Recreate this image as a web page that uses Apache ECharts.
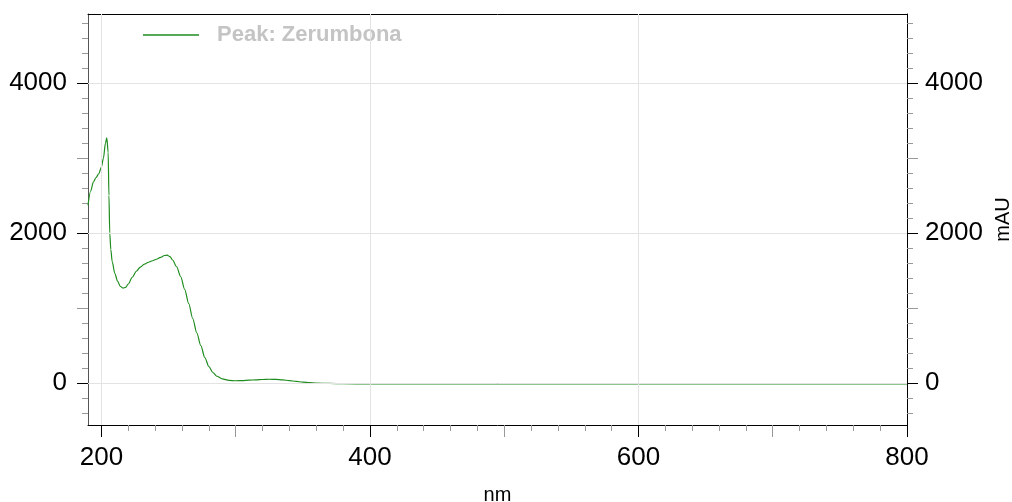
<!DOCTYPE html>
<html>
<head>
<meta charset="utf-8">
<script src="https://cdn.jsdelivr.net/npm/echarts@6/dist/echarts.min.js"></script>
<style>
html,body{margin:0;padding:0;background:#fff;}
#chart{width:1012px;height:502px;}
</style>
</head>
<body>
<div id="chart"></div>
<script>
const seriesName = 'Peak: Zerumbona';
const wavelengths = [190,192,194,196,198,200,201.5,203,204,205,205.6,206.2,207,208,210,212,214,216,218,220,223,226,229,232,235,238,241,244,247,249,251,253,256,259,262,265,268,271,274,277,280,283,286,290,295,300,305,310,315,320,325,330,335,340,345,350,355,360,370,380,400,450,500,550,600,650,700,750,800];
const absorbance = [2370,2560,2680,2740,2790,2880,3000,3200,3270,3080,2500,2000,1780,1620,1460,1360,1290,1265,1275,1320,1410,1490,1545,1585,1610,1630,1650,1675,1700,1705,1685,1640,1550,1420,1250,1060,860,670,500,340,220,140,90,55,35,30,32,38,42,47,50,48,42,32,22,12,5,0,-6,-10,-12,-12,-12,-12,-12,-12,-12,-12,-12];
const xMajorTicks = [200,400,600,800];
const xMidTicks = [300,500,700];
const xMinorTicks = [220,240,260,280,320,340,360,380,420,440,460,480,520,540,560,580,620,640,660,680,720,740,760,780];
const yMajorTicks = [0,2000,4000];
const yMidTicks = [1000,3000];
const yMinorTicks = [-400,-200,200,400,600,800,1200,1400,1600,1800,2200,2400,2600,2800,3200,3400,3600,3800,4200,4400,4600,4800];
const xGridValues = [200,400,600];
const yGridValues = [0,2000,4000];
const xRange = [190, 800];
const yRange = [-560, 4920];
const xName = 'nm';
const yName = 'mAU';

const FONT = 'Liberation Sans, Arial, sans-serif';
const plain = v => String(v);
const chart = echarts.init(document.getElementById('chart'), null, {renderer: 'canvas'});

function tickAxis(pos, values, len, color) {
  const isX = pos === 'top' || pos === 'bottom';
  return {
    type: 'value', position: pos,
    min: isX ? xRange[0] : yRange[0],
    max: isX ? xRange[1] : yRange[1],
    axisLine: {show: false, onZero: false},
    axisTick: {show: true, customValues: values, length: len, lineStyle: {color: color, width: 1}},
    axisLabel: {show: false},
    splitLine: {show: false}
  };
}

const data = wavelengths.map((w, i) => [w, absorbance[i]]);

chart.setOption({
  animation: false,
  backgroundColor: '#fff',
  grid: {left: 88, right: 105, top: 14, bottom: 77, containLabel: false, outerBoundsMode: 'none'},
  legend: {
    data: [seriesName],
    left: 138, top: 19,
    icon: 'rect', itemWidth: 56, itemHeight: 1.5,
    textStyle: {color: '#c4c4c4', fontWeight: 'bold', fontSize: 22, fontFamily: FONT, padding: [0,0,0,13]},
    selectedMode: false
  },
  xAxis: [
    {
      type: 'value', position: 'bottom', min: xRange[0], max: xRange[1],
      axisLine: {show: true, onZero: false, lineStyle: {color: '#000', width: 1}},
      axisTick: {show: true, customValues: xMajorTicks, length: 12, lineStyle: {color: '#000'}},
      axisLabel: {show: true, customValues: xMajorTicks, formatter: plain, fontSize: 26, color: '#000', fontFamily: FONT, margin: 20},
      splitLine: {show: false},
      name: xName, nameLocation: 'middle', nameGap: 60,
      nameTextStyle: {fontSize: 20, color: '#000', fontFamily: FONT}
    },
    tickAxis('bottom', xMidTicks, 12, '#999'),
    tickAxis('bottom', xMinorTicks, 6, '#999'),
    {
      type: 'value', position: 'top', min: xRange[0], max: xRange[1],
      axisLine: {show: true, onZero: false, lineStyle: {color: '#000', width: 1}},
      axisTick: {show: false}, axisLabel: {show: false}, splitLine: {show: false}
    }
  ],
  yAxis: [
    {
      type: 'value', position: 'left', min: yRange[0], max: yRange[1],
      axisLine: {show: true, onZero: false, lineStyle: {color: '#555', width: 1}},
      axisTick: {show: true, customValues: yMajorTicks, length: 11, lineStyle: {color: '#000'}},
      axisLabel: {show: true, customValues: yMajorTicks, formatter: plain, fontSize: 26, color: '#000', fontFamily: FONT, margin: 21},
      splitLine: {show: false}
    },
    tickAxis('left', yMidTicks, 11, '#999'),
    tickAxis('left', yMinorTicks, 6, '#999'),
    {
      type: 'value', position: 'right', min: yRange[0], max: yRange[1],
      axisLine: {show: true, onZero: false, lineStyle: {color: '#000', width: 1}},
      axisTick: {show: true, customValues: yMajorTicks, length: 11, lineStyle: {color: '#000'}},
      axisLabel: {show: true, customValues: yMajorTicks, formatter: plain, fontSize: 26, color: '#000', fontFamily: FONT, margin: 18},
      splitLine: {show: false},
      name: yName, nameLocation: 'middle', nameGap: 80, nameRotate: 90,
      nameTextStyle: {fontSize: 20, color: '#000', fontFamily: FONT}
    },
    tickAxis('right', yMidTicks, 11, '#999'),
    tickAxis('right', yMinorTicks, 6, '#999')
  ],
  series: [
    {
      name: 'grid', type: 'line', xAxisIndex: 0, yAxisIndex: 0, data: [], z: 1, silent: true,
      markLine: {
        silent: true, symbol: ['none','none'], label: {show: false}, animation: false,
        lineStyle: {color: '#e3e3e3', width: 1, type: 'solid'},
        data: xGridValues.map(v => ({xAxis: v})).concat(yGridValues.map(v => ({yAxis: v})))
      }
    },
    {
      name: seriesName, type: 'line', xAxisIndex: 0, yAxisIndex: 0, z: 3,
      data: data, showSymbol: false, symbol: 'none', smooth: 0.3, smoothMonotone: 'x',
      lineStyle: {color: '#1e8c1e', width: 1.2}, itemStyle: {color: '#1e8c1e'}
    }
  ]
});
</script>
</body>
</html>
